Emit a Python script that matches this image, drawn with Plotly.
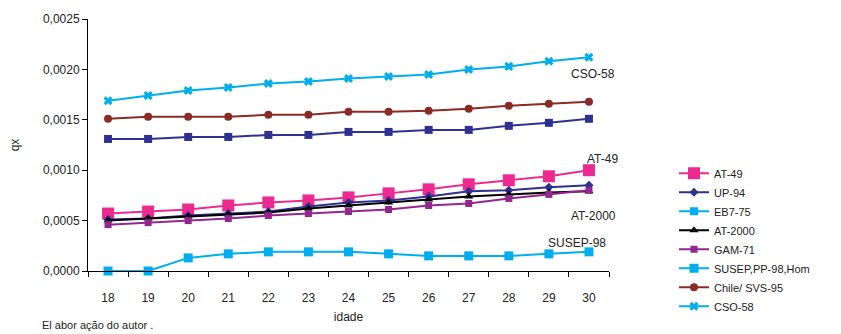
import plotly.graph_objects as go

idades = ["18", "19", "20", "21", "22", "23", "24", "25", "26", "27", "28", "29", "30"]

at_49 = [0.00057, 0.00059, 0.00061, 0.00065, 0.00068, 0.00070, 0.00073, 0.00077, 0.00081, 0.00086, 0.00090, 0.00094, 0.00100]
up_94 = [0.00051, 0.00052, 0.00055, 0.00057, 0.00059, 0.00064, 0.00068, 0.00070, 0.00074, 0.00079, 0.00080, 0.00083, 0.00085]
eb7_75 = [0.00131, 0.00131, 0.00133, 0.00133, 0.00135, 0.00135, 0.00138, 0.00138, 0.00140, 0.00140, 0.00144, 0.00147, 0.00151]
at_2000 = [0.00050, 0.00052, 0.00054, 0.00056, 0.00058, 0.00062, 0.00065, 0.00068, 0.00071, 0.00074, 0.00076, 0.00078, 0.00079]
gam_71 = [0.00046, 0.00048, 0.00050, 0.00052, 0.00055, 0.00057, 0.00059, 0.00061, 0.00065, 0.00067, 0.00072, 0.00076, 0.00080]
susep_98 = [0.00000, 0.00000, 0.00013, 0.00017, 0.00019, 0.00019, 0.00019, 0.00017, 0.00015, 0.00015, 0.00015, 0.00017, 0.00019]
chile_95 = [0.00151, 0.00153, 0.00153, 0.00153, 0.00155, 0.00155, 0.00158, 0.00158, 0.00159, 0.00161, 0.00164, 0.00166, 0.00168]
cso_58 = [0.00169, 0.00174, 0.00179, 0.00182, 0.00186, 0.00188, 0.00191, 0.00193, 0.00195, 0.00200, 0.00203, 0.00208, 0.00212]

PINK = "#EC2A8F"
NAVY = "#2E3192"
CYAN = "#00AEEF"
BLACK = "#000000"
PURPLE = "#93278F"
BROWN = "#8C2A25"

FONT = "Liberation Sans, Arial, sans-serif"

# plot area in pixels
L, R, T, B = 88, 609, 15, 271
PW, PH = R - L, B - T

# (name, values, line colour, marker symbol, marker size, legend colour)
series = [
    ("AT-49", at_49, PINK, "square", 12, PINK),
    ("UP-94", up_94, NAVY, "diamond", 7, NAVY),
    ("EB7-75", eb7_75, NAVY, "square", 8, CYAN),
    ("AT-2000", at_2000, BLACK, "triangle-up", 8, BLACK),
    ("GAM-71", gam_71, PURPLE, "square", 7, PURPLE),
    ("SUSEP,PP-98,Hom", susep_98, CYAN, "square", 9, CYAN),
    ("Chile/ SVS-95", chile_95, BROWN, "circle", 8, BROWN),
    ("CSO-58", cso_58, CYAN, "x", 8, CYAN),
]

fig = go.Figure()

for name, vals, color, sym, size, leg_color in series:
    fig.add_trace(go.Scatter(
        x=idades, y=vals, mode="lines+markers", name=name,
        line=dict(color=color, width=2),
        marker=dict(color=color, symbol=sym, size=size, line=dict(width=0)),
        showlegend=False, cliponaxis=False,
    ))

for name, vals, color, sym, size, leg_color in series:
    fig.add_trace(go.Scatter(
        x=[None], y=[None], mode="lines+markers", name=name,
        line=dict(color=leg_color, width=2),
        marker=dict(color=leg_color, symbol=sym, size=size, line=dict(width=0)),
        showlegend=True,
    ))

# series labels at the right end of the lines
labels = [
    ("CSO-58", 617, 71),
    ("AT-49", 620, 157),
    ("AT-2000", 618, 215),
    ("SUSEP-98", 608, 243),
]
for text, px, py in labels:
    fig.add_annotation(
        text=text, xref="paper", yref="paper",
        x=(px - L) / PW, y=(B - py) / PH,
        xanchor="right", yanchor="middle", showarrow=False,
        font=dict(family=FONT, size=12, color="#222"),
    )

fig.add_annotation(
    text="El abor ação do autor .", xref="paper", yref="paper",
    x=(40 - L) / PW, y=(B - 326) / PH, xanchor="left", yanchor="middle",
    showarrow=False, font=dict(family=FONT, size=11, color="#222"),
)

fig.update_layout(
    width=841, height=334,
    margin=dict(l=L, r=841 - R, t=T, b=334 - B),
    paper_bgcolor="white", plot_bgcolor="white",
    separators=", ",
    font=dict(family=FONT, size=12, color="#222"),
    showlegend=True,
    legend=dict(
        x=(674 - L) / PW, y=(B - 157) / PH, xanchor="left", yanchor="top",
        font=dict(family=FONT, size=11, color="#222"),
        tracegroupgap=0, bgcolor="rgba(0,0,0,0)",
    ),
    xaxis=dict(
        type="category", range=[-0.5, 12.5],
        showline=True, linecolor="black", linewidth=1,
        ticks="outside", tickson="boundaries", ticklen=5, tickcolor="black",
        ticklabelstandoff=16, automargin=False,
        showgrid=False, zeroline=False,
        title=dict(text="idade", font=dict(family=FONT, size=12), standoff=8),
        tickfont=dict(family=FONT, size=12),
    ),
    yaxis=dict(
        range=[0, 0.0025], dtick=0.0005, tickformat=".4f",
        showline=True, linecolor="black", linewidth=1,
        ticks="outside", ticklen=5, tickcolor="black",
        showgrid=False, zeroline=False,
        title=dict(text="qx", font=dict(family=FONT, size=12), standoff=20),
        tickfont=dict(family=FONT, size=12),
    ),
)

fig.write_html("out.html")
